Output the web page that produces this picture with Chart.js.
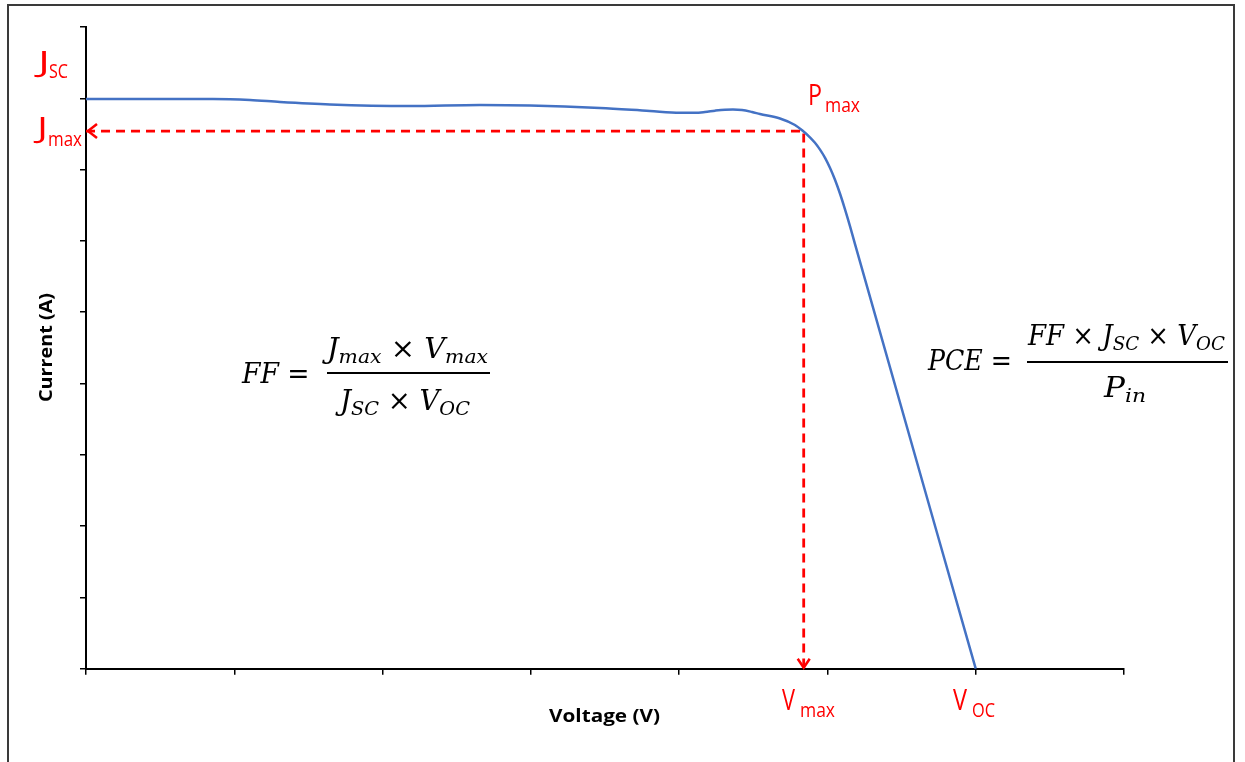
<!DOCTYPE html>
<html>
<head>
<meta charset="utf-8">
<script src="https://cdn.jsdelivr.net/npm/chart.js@4.4.1/dist/chart.umd.min.js"></script>
<style>
  html, body { margin: 0; padding: 0; background: #fff; }
  canvas { display: block; }
</style>
</head>
<body>
<canvas id="c" width="1245" height="762"></canvas>
<script>
// ---- data ----
const voltage = [0, 0.432, 0.856, 1.106, 1.308, 1.645, 2.185, 2.657, 2.994, 3.466, 3.803, 4.006, 4.107, 4.174, 4.242, 4.309, 4.363, 4.424, 4.491, 4.545, 4.680, 4.781, 4.835, 4.882, 4.916, 4.950, 4.984, 5.017, 5.051, 5.085, 5.119, 5.153, 5.186, 6.00];
const current = [7.990, 7.990, 7.990, 7.976, 7.948, 7.913, 7.892, 7.906, 7.899, 7.864, 7.822, 7.798, 7.797, 7.808, 7.827, 7.841, 7.844, 7.836, 7.808, 7.780, 7.717, 7.626, 7.541, 7.453, 7.376, 7.280, 7.165, 7.025, 6.857, 6.661, 6.439, 6.201, 5.955, 0.00];
const markerVoltage = [0, 4.84, 4.84];   // Jmax -> Pmax -> Vmax
const markerCurrent = [7.54, 7.54, 0];
const xRange = [0, 7];
const yRange = [0, 9];
const xTitle = 'Voltage (V)';
const yTitle = 'Current (A)';

const RED = '#FF0000';
const BLUE = '#4472C4';

// draw text fitted to a target width (horizontal scale), left x, baseline y
function fitText(ctx, text, font, x, y, w) {
  ctx.save();
  ctx.font = font;
  const m = ctx.measureText(text).width;
  const s = w ? w / m : 1;
  ctx.translate(x, y);
  ctx.scale(s, 1);
  ctx.textAlign = 'left';
  ctx.textBaseline = 'alphabetic';
  ctx.fillText(text, 0, 0);
  ctx.restore();
}

// math runs: {t, it, sub}
const SERIF = '"DejaVu Serif", "Liberation Serif", serif';
function runFont(r, S) {
  const size = r.sub ? Math.round(S * 0.7) : S;
  return (r.it ? 'italic ' : '') + size + 'px ' + SERIF;
}
function drawRuns(ctx, runs, x, y, S, targetW) {
  ctx.save();
  let total = 0;
  const widths = runs.map(r => { ctx.font = runFont(r, S); const w = ctx.measureText(r.t).width; total += w; return w; });
  const s = targetW ? targetW / total : 1;
  ctx.translate(x, y);
  ctx.scale(s, 1);
  ctx.textBaseline = 'alphabetic';
  ctx.textAlign = 'left';
  let cx = 0;
  runs.forEach((r, i) => {
    ctx.font = runFont(r, S);
    ctx.fillText(r.t, cx, r.sub ? S * 0.2 : 0);
    cx += widths[i];
  });
  ctx.restore();
}

const annotations = {
  id: 'annotations',
  beforeDraw(chart) {
    const ctx = chart.ctx;
    ctx.save();
    ctx.fillStyle = '#fff';
    ctx.fillRect(0, 0, chart.width, chart.height);
    ctx.restore();
  },
  afterDraw(chart) {
    const ctx = chart.ctx;
    const xs = chart.scales.x, ys = chart.scales.y;
    ctx.save();

    // outer frame
    ctx.strokeStyle = '#3a3a3a';
    ctx.lineWidth = 2;
    ctx.strokeRect(8, 5, 1226, 800);

    // arrowheads
    ctx.strokeStyle = RED;
    ctx.lineWidth = 2.5;
    ctx.setLineDash([]);
    const ax = xs.getPixelForValue(markerVoltage[0]) + 2;
    const ay = ys.getPixelForValue(markerCurrent[0]);
    ctx.beginPath();
    ctx.moveTo(ax + 9, ay - 7);
    ctx.lineTo(ax, ay);
    ctx.lineTo(ax + 9, ay + 7);
    ctx.stroke();
    const bx = xs.getPixelForValue(markerVoltage[2]);
    const by = ys.getPixelForValue(markerCurrent[2]) - 1;
    ctx.beginPath();
    ctx.moveTo(bx - 6, by - 9);
    ctx.lineTo(bx, by);
    ctx.lineTo(bx + 6, by - 9);
    ctx.stroke();

    // red labels
    ctx.fillStyle = RED;
    const MAIN = '30px "Open Sans", sans-serif';
    const SUB = '20px "Open Sans", sans-serif';
    fitText(ctx, 'J', MAIN, 38, 72, 12);
    fitText(ctx, 'SC', SUB, 49, 78, 19);
    fitText(ctx, 'J', MAIN, 37, 138, 11);
    fitText(ctx, 'max', SUB, 48, 146, 34);
    fitText(ctx, 'P', MAIN, 808, 105, 14);
    fitText(ctx, 'max', SUB, 825, 112, 35);
    fitText(ctx, 'V', MAIN, 782, 710, 13);
    fitText(ctx, 'max', SUB, 800, 717, 35);
    fitText(ctx, 'V', MAIN, 953, 710, 14);
    fitText(ctx, 'OC', SUB, 972, 717, 23);

    // axis titles
    ctx.fillStyle = '#000';
    fitText(ctx, xTitle, 'bold 17px "Open Sans", sans-serif', 549, 722, 111);
    ctx.save();
    ctx.translate(52, 402);
    ctx.rotate(-Math.PI / 2);
    fitText(ctx, yTitle, 'bold 17px "Open Sans", sans-serif', 0, 0, 109);
    ctx.restore();

    // formulas
    const S = 27;
    drawRuns(ctx, [{t:'FF', it:true}, {t:' = ', it:false}], 242, 383, S, 76);
    ctx.fillRect(327, 372, 163, 2);
    drawRuns(ctx, [{t:'J', it:true}, {t:'max', it:true, sub:true}, {t:' × ', it:false}, {t:'V', it:true}, {t:'max', it:true, sub:true}], 327, 358, S, 161);
    drawRuns(ctx, [{t:'J', it:true}, {t:'SC', it:true, sub:true}, {t:' × ', it:false}, {t:'V', it:true}, {t:'OC', it:true, sub:true}], 340, 410, S, 130);

    drawRuns(ctx, [{t:'PCE', it:true}, {t:' = ', it:false}], 928, 370, S, 92);
    ctx.fillRect(1027, 361, 201, 2);
    drawRuns(ctx, [{t:'FF', it:true}, {t:' × ', it:false}, {t:'J', it:true}, {t:'SC', it:true, sub:true}, {t:' × ', it:false}, {t:'V', it:true}, {t:'OC', it:true, sub:true}], 1028, 345, S, 197);
    drawRuns(ctx, [{t:'P', it:true}, {t:'in', it:true, sub:true}], 1104, 397, S, 42);

    ctx.restore();
  }
};

const axisCommon = {
  type: 'linear',
  ticks: { display: false, stepSize: 1 },
  grid: { display: true, drawOnChartArea: false, drawTicks: true, tickLength: 6, color: '#000', lineWidth: 1.5 },
  border: { display: true, color: '#000', width: 2 }
};

new Chart(document.getElementById('c'), {
  type: 'scatter',
  data: {
    datasets: [
      {
        data: voltage.map((v, i) => ({ x: v, y: current[i] })),
        showLine: true,
        borderColor: BLUE,
        borderWidth: 2.5,
        pointRadius: 0,
        cubicInterpolationMode: 'monotone',
        fill: false,
        clip: 6
      },
      {
        data: markerVoltage.map((v, i) => ({ x: v, y: markerCurrent[i] })),
        showLine: true,
        borderColor: RED,
        borderWidth: 2.8,
        borderDash: [9, 6],
        pointRadius: 0,
        tension: 0,
        fill: false,
        clip: 6
      }
    ]
  },
  options: {
    responsive: false,
    animation: false,
    events: [],
    layout: { padding: { left: 66, top: 27, right: 121, bottom: 73.3 } },
    plugins: { legend: { display: false }, tooltip: { enabled: false } },
    scales: {
      x: Object.assign({}, axisCommon, { min: xRange[0], max: xRange[1], afterFit(s) { s.height = 20; } }),
      y: Object.assign({}, axisCommon, { min: yRange[0], max: yRange[1], afterFit(s) { s.width = 20; } })
    }
  },
  plugins: [annotations]
});
</script>
</body>
</html>
